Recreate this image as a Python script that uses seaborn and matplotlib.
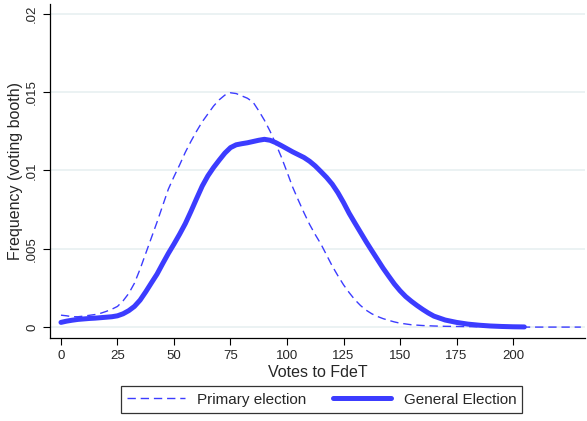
import numpy as np
import pandas as pd
import matplotlib
matplotlib.use("Agg")
import matplotlib.pyplot as plt
import seaborn as sns

# density of votes per voting booth
votes_primary = np.r_[np.arange(0, 152.5, 2.5), np.arange(155, 235, 5)]
dens_primary = [0.00076, 0.00072, 0.00066, 0.00066, 0.00070, 0.00075, 0.00080, 0.00088,
                0.00100, 0.00114, 0.00132, 0.00168, 0.00215, 0.00280, 0.00370, 0.00470,
                0.00570, 0.00670, 0.00775, 0.00880, 0.00960, 0.01035, 0.01115, 0.01185,
                0.01250, 0.01310, 0.01360, 0.01410, 0.01450, 0.01480, 0.01495, 0.01490,
                0.01475, 0.01460, 0.01435, 0.01380, 0.01320, 0.01250, 0.01170, 0.01085,
                0.00990, 0.00893, 0.00810, 0.00730, 0.00655, 0.00590, 0.00530, 0.00460,
                0.00390, 0.00328, 0.00270, 0.00220, 0.00175, 0.00138, 0.00108, 0.00085,
                0.00068, 0.00054, 0.00043, 0.00033, 0.00025,
                0.00015, 0.00010, 0.00007, 0.00005, 0.00004, 0.00003, 0.00002, 0.00002,
                0.00001, 0.00001, 0.0, 0.0, 0.0, 0.0, 0.0, 0.0]

votes_general = np.r_[np.arange(0, 167.5, 2.5), np.arange(170, 210, 5)]
dens_general = [0.00030, 0.00038, 0.00044, 0.00049, 0.00052, 0.00055, 0.00057, 0.00060,
                0.00063, 0.00066, 0.00072, 0.00085, 0.00105, 0.00132, 0.00172, 0.00225,
                0.00282, 0.00338, 0.00405, 0.00470, 0.00530, 0.00593, 0.00660, 0.00738,
                0.00820, 0.00900, 0.00965, 0.01018, 0.01065, 0.01110, 0.01145, 0.01163,
                0.01170, 0.01176, 0.01184, 0.01192, 0.01198, 0.01192, 0.01177, 0.01158,
                0.01138, 0.01118, 0.01100, 0.01082, 0.01058, 0.01028, 0.00992, 0.00955,
                0.00912, 0.00858, 0.00795, 0.00726, 0.00665, 0.00605, 0.00545, 0.00488,
                0.00432, 0.00376, 0.00325, 0.00275, 0.00232, 0.00195, 0.00165, 0.00138,
                0.00113, 0.00090, 0.00070,
                0.00045, 0.00030, 0.00019, 0.00012, 0.00007, 0.00004, 0.00002, 0.00001]

x_ticks = [0, 25, 50, 75, 100, 125, 150, 175, 200]
y_ticks = [0, 0.005, 0.01, 0.015, 0.02]
y_ticklabels = ["0", ".005", ".01", ".015", ".02"]

primary = pd.DataFrame({"votes": votes_primary, "dens": dens_primary})
general = pd.DataFrame({"votes": votes_general, "dens": dens_general})

sns.set_style("white")
plt.rcParams["font.family"] = ["Liberation Sans", "DejaVu Sans"]

blue = "#3c3cff"
fig = plt.figure(figsize=(5.87, 4.21), dpi=100)
ax = fig.add_axes([0.0852, 0.197, 0.912, 0.793])

sns.lineplot(data=primary, x="votes", y="dens", ax=ax, color=blue, lw=1.0,
             linestyle=(0, (6, 3.5)), label="Primary election")
sns.lineplot(data=general, x="votes", y="dens", ax=ax, color=blue, lw=3.6,
             label="General Election")

ax.set_xlim(-4.85, 232)
ax.set_ylim(-0.0007, 0.0206)
ax.set_xticks(x_ticks)
ax.set_yticks(y_ticks)
ax.set_yticklabels(y_ticklabels, rotation=90, va="center")
ax.tick_params(axis="both", length=5, width=0.8, color="black", labelsize=9.5, direction="out",
               left=True, bottom=True)
ax.yaxis.grid(True, color="#e8f0f1", lw=1.2)
ax.set_axisbelow(True)
for s in ["top", "right"]:
    ax.spines[s].set_visible(False)
for s in ["left", "bottom"]:
    ax.spines[s].set_color("black")
    ax.spines[s].set_linewidth(0.9)

ax.set_xlabel("Votes to FdeT", fontsize=11.5, labelpad=2)
ax.set_ylabel("Frequency (voting booth)", fontsize=11.5, labelpad=2)

ax.legend(loc="center", bbox_to_anchor=(0.548, 0.051), bbox_transform=fig.transFigure,
          ncol=2, frameon=True, fancybox=False, edgecolor="black", fontsize=11,
          handlelength=3.8, columnspacing=1.75, borderpad=0.4)
ax.get_legend().get_frame().set_linewidth(0.9)

fig.savefig("out.png", dpi=100)
